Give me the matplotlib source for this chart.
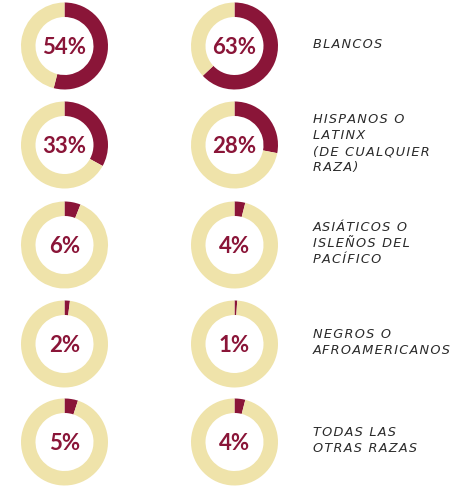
import matplotlib
matplotlib.use("Agg")
import matplotlib.pyplot as plt

categories = ["BLANCOS", "HISPANOS O\nLATINX\n(DE CUALQUIER\nRAZA)",
              "ASIÁTICOS O\nISLEÑOS DEL\nPACÍFICO", "NEGROS O\nAFROAMERICANOS",
              "TODAS LAS\nOTRAS RAZAS"]
col1_values = [54, 33, 6, 2, 5]
col2_values = [63, 28, 4, 1, 4]

MAROON = "#8A1538"
BEIGE = "#EFE3AA"

W, H = 462, 491
fig = plt.figure(figsize=(W / 100, H / 100), dpi=100)
ax = fig.add_axes([0, 0, 1, 1])

row_y = [46, 145, 245, 344, 442]
col_x = [64.5, 234.5]
R = 43.5
ring = 14.5


def spaced(s):
    # widen letter spacing with hair spaces
    return "\n".join("\u200a".join(line) for line in s.split("\n"))


for i, cat in enumerate(categories):
    yc = H - row_y[i]
    for cx, vals in zip(col_x, [col1_values, col2_values]):
        v = vals[i]
        ax.pie([v, 100 - v], colors=[MAROON, BEIGE], startangle=90,
               counterclock=False, radius=R, center=(cx, yc), frame=True,
               wedgeprops=dict(width=ring, linewidth=0))
        ax.text(cx, yc - 1, f"{v}%", ha="center", va="center",
                fontsize=16, fontweight="bold", family="Lato", color=MAROON)
    ax.text(313, yc + 1.5, spaced(cat), ha="left", va="center", fontsize=9.3,
            style="italic", family="DejaVu Sans", color="#2a2a2a",
            linespacing=1.32)

ax.set_xlim(0, W)
ax.set_ylim(0, H)
ax.set_aspect("equal")
ax.axis("off")
fig.savefig("out.png", dpi=100, facecolor="white")
